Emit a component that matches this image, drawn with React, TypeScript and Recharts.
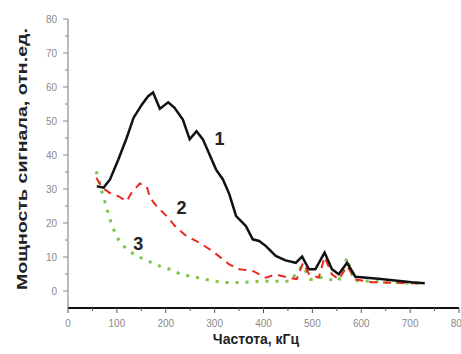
import React from 'react';
import { LineChart, Line, XAxis, YAxis, ReferenceDot, Label } from 'recharts';

const curve1X = [59, 73, 86, 103, 120, 134, 151, 164, 174, 188, 205, 218, 235, 249, 263, 276, 290, 303, 317, 330, 344, 364, 378, 391, 405, 425, 445, 466, 479, 493, 506, 525, 540, 554, 571, 588, 635, 703, 730];
const curve1Y = [30.8, 30.4, 32.8, 38.7, 45, 50.9, 54.8, 57.3, 58.4, 53.6, 55.5, 53.9, 50.4, 44.6, 47, 44.6, 40, 35.7, 32.8, 28.5, 22, 19.1, 15.2, 14.7, 13.2, 10.3, 9, 8.3, 10.1, 6.4, 6.4, 11.3, 6.4, 4.9, 8.3, 4.2, 3.6, 2.6, 2.3];

const curve2X = [58, 70, 90, 103, 120, 130, 147, 161, 168, 181, 202, 222, 242, 269, 296, 330, 351, 378, 405, 425, 452, 468, 481, 493, 513, 525, 540, 554, 571, 588, 621, 703, 730];
const curve2Y = [33.3, 30.4, 28.4, 27.9, 26.4, 28.9, 31.6, 30.8, 27.4, 25, 22, 18.6, 16.2, 14.2, 11.7, 7.8, 6.4, 5.9, 3.9, 4.9, 3.9, 3.5, 8.3, 5, 3.9, 10, 4.9, 3.4, 7.3, 3.4, 2.6, 2.3, 2.2];

const curve3X = [58, 70, 80, 90, 103, 120, 141, 164, 188, 208, 232, 256, 276, 300, 323, 343, 364, 391, 411, 432, 455, 479, 496, 516, 537, 554, 571, 585, 605, 650, 703, 730];
const curve3Y = [35.2, 28.9, 24, 19.1, 15.2, 12.2, 10.3, 8.8, 7.3, 6.4, 4.9, 4.2, 3.6, 2.9, 2.5, 2.5, 2.6, 2.9, 2.9, 2.9, 2.9, 7.5, 3.4, 4, 3.4, 3, 9.8, 3, 3, 2.6, 2.3, 2.2];

const xTicks = [0, 50, 100, 150, 200, 250, 300, 350, 400, 450, 500, 550, 600, 650, 700, 750, 800];
const yTicks = [0, 5, 10, 15, 20, 25, 30, 35, 40, 45, 50, 55, 60, 65, 70, 75, 80];

const curveLabels = [
  { x: 310, y: 44.6, text: '1' },
  { x: 232, y: 24.5, text: '2' },
  { x: 144, y: 13.7, text: '3' },
];

const xTitle = 'Частота, кГц';
const yTitle = 'Мощность сигнала, отн.ед.';

const zip = (xs: number[], ys: number[]) => xs.map((x, i) => ({ x, y: ys[i] }));
const data1 = zip(curve1X, curve1Y);
const data2 = zip(curve2X, curve2Y);
const data3 = zip(curve3X, curve3Y);

const XTick = (props: any) => {
  const { x, y, payload } = props;
  const major = payload.value % 100 === 0;
  return (
    <g>
      <line x1={x} x2={x} y1={y} y2={y + (major ? 5 : 3)} stroke="#555" strokeWidth={1} />
      {major && (
        <text x={x} y={y + 19} textAnchor="middle" fontSize={10} fill="#8a8a8a" fontFamily="Arial, Liberation Sans, sans-serif">
          {payload.value}
        </text>
      )}
    </g>
  );
};

const YTick = (props: any) => {
  const { x, y, payload } = props;
  const major = payload.value % 10 === 0;
  return (
    <g>
      <line x1={x} x2={x - (major ? 5 : 3)} y1={y} y2={y} stroke="#888" strokeWidth={1} />
      {major && (
        <text x={x - 11} y={y + 3.5} textAnchor="end" fontSize={10} fill="#8a8a8a" fontFamily="Arial, Liberation Sans, sans-serif">
          {payload.value}
        </text>
      )}
    </g>
  );
};

export default function App() {
  return (
    <div style={{ position: 'absolute', left: 0, top: 0, background: '#fff' }}>
      <LineChart width={461} height={354} margin={{ top: 19, right: 2, bottom: 0, left: 0 }}>
        <XAxis
          type="number"
          dataKey="x"
          domain={[0, 800]}
          ticks={xTicks}
          interval={0}
          tick={<XTick />}
          tickLine={false}
          tickSize={0}
          tickMargin={0}
          height={46}
          axisLine={{ stroke: '#111', strokeWidth: 2 }}
          allowDataOverflow
        >
          <Label
            content={() => (
              <text x={256} y={344} textAnchor="middle" fontSize={14} fontWeight="bold" fill="#222" fontFamily="Arial, Liberation Sans, sans-serif">
                {xTitle}
              </text>
            )}
          />
        </XAxis>
        <YAxis
          type="number"
          domain={[-5, 80]}
          ticks={yTicks}
          interval={0}
          tick={<YTick />}
          tickLine={false}
          tickSize={0}
          tickMargin={0}
          width={68}
          axisLine={{ stroke: '#777', strokeWidth: 1 }}
          allowDataOverflow
        >
          <Label
            content={() => (
              <text
                x={0}
                y={0}
                transform="translate(27,159) rotate(-90)"
                textAnchor="middle"
                fontSize={15}
                fontWeight="bold"
                fill="#222"
                fontFamily="Arial, Liberation Sans, sans-serif"
                textLength={262}
                lengthAdjust="spacingAndGlyphs"
              >
                {yTitle}
              </text>
            )}
          />
        </YAxis>
        <Line data={data3} dataKey="y" type="linear" stroke="#7cc444" strokeWidth={3} strokeDasharray="3 7" dot={false} isAnimationActive={false} />
        <Line data={data2} dataKey="y" type="linear" stroke="#e8281e" strokeWidth={2} strokeDasharray="8 6" dot={false} isAnimationActive={false} />
        <Line data={data1} dataKey="y" type="linear" stroke="#111" strokeWidth={2.5} dot={false} isAnimationActive={false} />
        {curveLabels.map((l) => (
          <ReferenceDot
            key={l.text}
            x={l.x}
            y={l.y}
            r={0}
            fill="none"
            stroke="none"
            label={(p: any) => (
              <text x={p.viewBox.x} y={p.viewBox.y + 6} textAnchor="middle" fontSize={18} fontWeight="bold" fill="#222" fontFamily="Arial, Liberation Sans, sans-serif">
                {l.text}
              </text>
            )}
          />
        ))}
      </LineChart>
    </div>
  );
}
